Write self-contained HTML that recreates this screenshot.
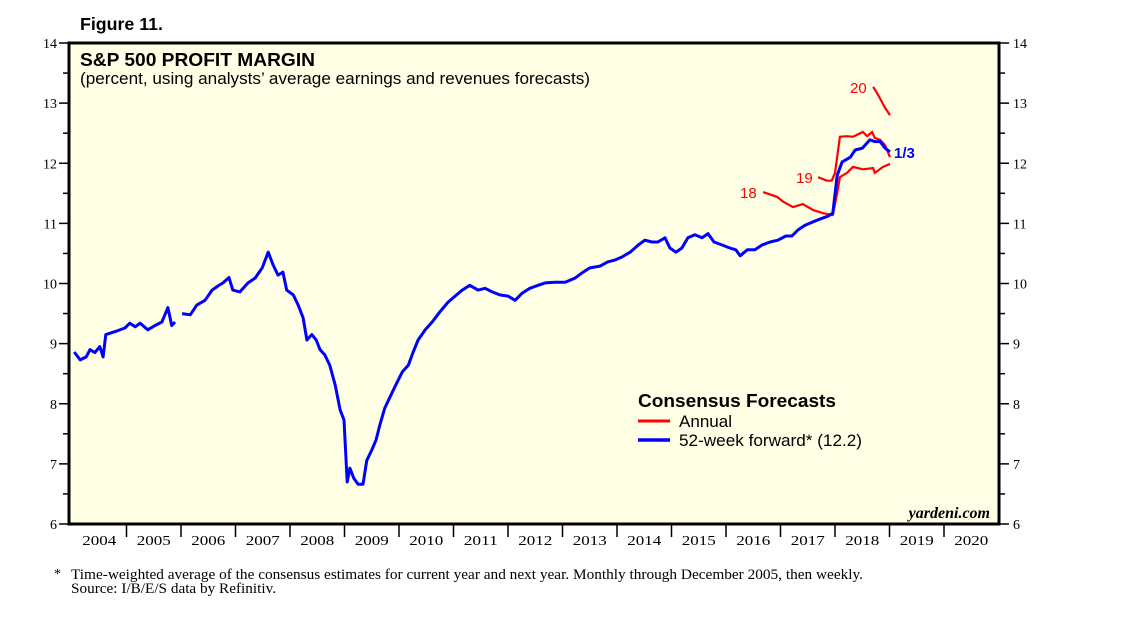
<!DOCTYPE html>
<html><head><meta charset="utf-8"><style>
html,body{margin:0;padding:0;background:#fff;}
svg{display:block;}
.serif{font-family:"Liberation Serif",serif;}
.sans{font-family:"Liberation Sans",sans-serif;}
</style></head><body>
<svg id="chart" width="1138" height="621" viewBox="0 0 1138 621" xmlns="http://www.w3.org/2000/svg">
<text x="80" y="30" class="sans" font-size="17.5" font-weight="bold" textLength="83" lengthAdjust="spacingAndGlyphs">Figure 11.</text>
<rect x="69" y="43" width="930" height="481" fill="#ffffe6" stroke="#000" stroke-width="3"/>
<text x="80" y="66" class="sans" font-size="18.5" font-weight="bold" textLength="235" lengthAdjust="spacingAndGlyphs">S&amp;P 500 PROFIT MARGIN</text>
<text x="80" y="84" class="sans" font-size="16.5" textLength="510" lengthAdjust="spacingAndGlyphs">(percent, using analysts’ average earnings and revenues forecasts)</text>
<g id="yaxis"></g>
<g id="xaxis"></g>
<g id="series"></g>
<text x="740" y="198" class="sans" font-size="15" fill="#f00">18</text>
<text x="796" y="183" class="sans" font-size="15" fill="#f00">19</text>
<text x="850" y="93" class="sans" font-size="15" fill="#f00">20</text>
<text x="894" y="158" class="sans" font-size="15" font-weight="bold" fill="#00f">1/3</text>
<g>
<text x="638" y="407" class="sans" font-size="18.5" font-weight="bold" textLength="198" lengthAdjust="spacingAndGlyphs">Consensus Forecasts</text>
<line x1="638" y1="421" x2="670" y2="421" stroke="#f00" stroke-width="3"/>
<text x="679" y="427" class="sans" font-size="17" textLength="53" lengthAdjust="spacingAndGlyphs">Annual</text>
<line x1="638" y1="440" x2="670" y2="440" stroke="#00f" stroke-width="3.5"/>
<text x="679" y="446" class="sans" font-size="17" textLength="183" lengthAdjust="spacingAndGlyphs">52-week forward* (12.2)</text>
</g>
<text x="990" y="518" text-anchor="end" class="serif" font-size="16" font-style="italic" font-weight="bold">yardeni.com</text>
<text x="54" y="578" class="serif" font-size="14">*</text>
<text x="71" y="579" class="serif" font-size="14.5" textLength="792" lengthAdjust="spacingAndGlyphs">Time-weighted average of the consensus estimates for current year and next year. Monthly through December 2005, then weekly.</text>
<text x="71" y="593" class="serif" font-size="14.5" textLength="205" lengthAdjust="spacingAndGlyphs">Source: I/B/E/S data by Refinitiv.</text>
</svg>
<script>
const yTicks=[6,7,8,9,10,11,12,13,14];
const years=[2004,2005,2006,2007,2008,2009,2010,2011,2012,2013,2014,2015,2016,2017,2018,2019,2020];
const blueT=[0.04,0.15,0.26,0.33,0.42,0.51,0.57,0.62,0.79,0.97,1.06,1.16,1.25,1.39,1.52,1.65,1.76,1.83,1.89,null,2.02,2.17,2.29,2.44,2.57,2.68,2.77,2.88,2.95,3.08,3.23,3.36,3.49,3.60,3.69,3.78,3.87,3.94,4.06,4.15,4.24,4.31,4.40,4.48,4.55,4.64,4.73,4.83,4.92,4.99,5.05,5.10,5.17,5.25,5.34,5.41,5.50,5.58,5.65,5.74,5.83,5.94,6.06,6.17,6.26,6.35,6.48,6.61,6.75,6.90,7.03,7.16,7.30,7.45,7.58,7.71,7.85,8.00,8.13,8.26,8.40,8.55,8.68,8.86,9.05,9.23,9.38,9.50,9.69,9.83,9.96,10.09,10.24,10.39,10.51,10.64,10.75,10.88,10.97,11.08,11.19,11.30,11.43,11.56,11.67,11.78,11.93,12.07,12.18,12.26,12.39,12.53,12.66,12.81,12.95,13.10,13.21,13.32,13.45,13.58,13.72,13.87,13.96,14.04,14.13,14.28,14.37,14.50,14.64,14.73,14.83,14.92,15.01];
const blueV=[8.86,8.73,8.78,8.9,8.85,8.95,8.78,9.15,9.2,9.26,9.34,9.28,9.34,9.23,9.3,9.36,9.6,9.3,9.36,null,9.5,9.48,9.64,9.72,9.89,9.96,10.01,10.1,9.89,9.86,10.01,10.09,10.26,10.52,10.31,10.14,10.19,9.89,9.81,9.64,9.43,9.06,9.15,9.06,8.9,8.81,8.64,8.31,7.9,7.73,6.7,6.93,6.76,6.66,6.66,7.06,7.23,7.4,7.65,7.93,8.1,8.31,8.53,8.64,8.86,9.06,9.23,9.36,9.53,9.69,9.79,9.89,9.97,9.89,9.92,9.86,9.81,9.79,9.72,9.84,9.92,9.97,10.01,10.02,10.02,10.09,10.19,10.26,10.29,10.36,10.39,10.44,10.52,10.64,10.72,10.69,10.69,10.76,10.59,10.52,10.59,10.76,10.81,10.76,10.83,10.69,10.64,10.59,10.56,10.46,10.56,10.56,10.64,10.69,10.72,10.79,10.79,10.89,10.97,11.02,11.07,11.12,11.17,11.8,12.02,12.1,12.22,12.25,12.39,12.36,12.36,12.25,12.19];
const red18T=[12.68,12.94,13.05,13.23,13.41,13.60,13.78,13.96,14.04,14.09,14.22,14.33,14.51,14.70,14.73,14.88,15.01];
const red18V=[11.52,11.44,11.36,11.27,11.32,11.22,11.17,11.14,11.5,11.77,11.84,11.94,11.9,11.92,11.84,11.94,11.99];
const red19T=[13.69,13.85,13.94,14.0,14.09,14.22,14.33,14.51,14.59,14.68,14.73,14.83,14.92,15.01];
const red19V=[11.77,11.71,11.71,11.84,12.44,12.45,12.44,12.52,12.45,12.52,12.42,12.39,12.3,12.1];
const red20T=[14.70,14.77,14.86,14.92,15.01];
const red20V=[13.27,13.17,13.02,12.92,12.8];

const NS="http://www.w3.org/2000/svg";
const X0=72,XW=54.5,Y0=524,YH=60.125;
const xs=t=>X0+t*XW;
const ys=v=>Y0-(v-6)*YH;
function mk(tag,attrs,parent){const e=document.createElementNS(NS,tag);for(const k in attrs)e.setAttribute(k,attrs[k]);parent.appendChild(e);return e;}
const ya=document.getElementById('yaxis');
for(let v=6;v<=14;v+=0.5){
  const major=Number.isInteger(v);const L=major?10:6;
  const y=ys(v);
  const t1=mk('line',{x1:69-L,y1:y,x2:69,y2:y,stroke:'#000','stroke-width':1.5},ya);
  
  
  const t2=mk('line',{x1:999,y1:y,x2:999+L,y2:y,stroke:'#000','stroke-width':1.5},ya);
  
  
}
yTicks.forEach(v=>{
  const a=mk('text',{x:57,y:ys(v)+5,'text-anchor':'end','font-size':14,class:'serif'},ya);a.textContent=v;
  
  
  const b=mk('text',{x:1013,y:ys(v)+5,'font-size':14,class:'serif'},ya);b.textContent=v;
  
  
});
const xa=document.getElementById('xaxis');
years.forEach((yr,i)=>{
  const x=xs(yr-2004);
  if(i>0){const t=mk('line',{x1:x,y1:524,x2:x,y2:537,stroke:'#000','stroke-width':1.5},xa);
  
  }
  const l=mk('text',{x:x+XW/2,y:545,'text-anchor':'middle','font-size':14,class:'serif',textLength:34,lengthAdjust:'spacingAndGlyphs'},xa);l.textContent=yr;
  
  
});
function pathD(T,V){let d='',pen=false;for(let i=0;i<T.length;i++){if(T[i]===null||V[i]===null){pen=false;continue;}d+=(pen?'L':'M')+xs(T[i]).toFixed(1)+','+ys(V[i]).toFixed(1);pen=true;}return d;}
const sg=document.getElementById('series');
const r18=mk('path',{d:pathD(red18T,red18V),fill:'none',stroke:'#f00','stroke-width':2.2},sg);


const r19=mk('path',{d:pathD(red19T,red19V),fill:'none',stroke:'#f00','stroke-width':2.2},sg);


const r20=mk('path',{d:pathD(red20T,red20V),fill:'none',stroke:'#f00','stroke-width':2.2},sg);


const bl=mk('path',{d:pathD(blueT,blueV),fill:'none',stroke:'#00f','stroke-width':3,'stroke-linejoin':'round'},sg);


</script>
</body></html>
